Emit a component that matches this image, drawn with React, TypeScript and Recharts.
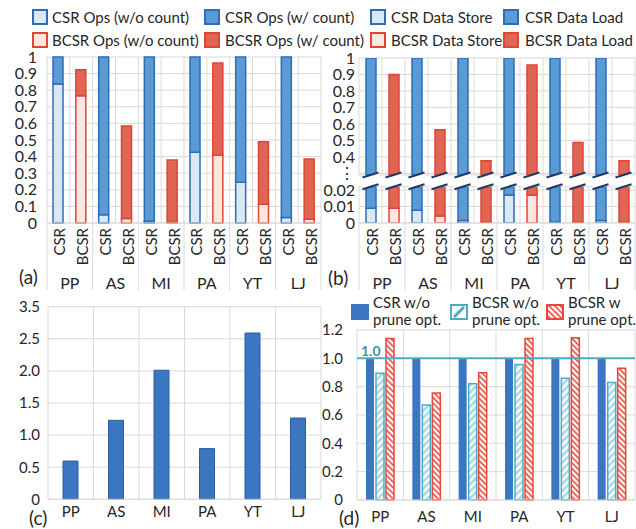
import React from 'react';
import { BarChart, Bar, XAxis, YAxis, CartesianGrid, Cell, ReferenceLine, ReferenceDot } from 'recharts';

// ---------- data ----------
const datasets = ['PP', 'AS', 'MI', 'PA', 'YT', 'LJ'];
const formats = ['CSR', 'BCSR'];

// (a) normalized ops
const csrOpsWoCount = [0.838, 0.05, 0.01, 0.426, 0.246, 0.033];
const csrOpsTotal = [1, 1, 1, 1, 1, 1];
const bcsrOpsWoCount = [0.766, 0.027, 0.004, 0.41, 0.113, 0.022];
const bcsrOpsTotal = [0.923, 0.585, 0.379, 0.964, 0.49, 0.385];
const opsTicks = [0, 0.1, 0.2, 0.3, 0.4, 0.5, 0.6, 0.7, 0.8, 0.9, 1];
const opsLegend = ['CSR Ops (w/o count)', 'CSR Ops (w/ count)', 'BCSR Ops (w/o count)', 'BCSR Ops (w/ count)'];

// (b) normalized data accesses (broken axis)
const csrDataStore = [0.009, 0.0078, 0.0015, 0.017, 0.0005, 0.0015];
const csrDataTotal = [1, 1, 1, 1, 1, 1];
const bcsrDataStore = [0.009, 0.0043, 0.0005, 0.017, 0.0005, 0.0005];
const bcsrDataTotal = [0.9, 0.565, 0.376, 0.957, 0.487, 0.376];
const dataUpperTicks = [0.3, 0.4, 0.5, 0.6, 0.7, 0.8, 0.9, 1];
const dataLowerTicks = [0, 0.01, 0.02];
const dataLegend = ['CSR Data Store', 'CSR Data Load', 'BCSR Data Store', 'BCSR Data Load'];

// (c) speedup
const speedup = [0.596, 1.23, 2.01, 0.79, 2.59, 1.266];
const speedupTicks = [0, 0.5, 1, 1.5, 2, 2.5, 3];
const speedupTickLabels = ['0', '0.5', '1.0', '1.5', '2.0', '2.5', '3.5'];

// (d) prune optimisation
const csrNoPrune = [1, 1, 1, 1, 1, 1];
const bcsrNoPrune = [0.894, 0.67, 0.82, 0.957, 0.859, 0.83];
const bcsrPrune = [1.14, 0.755, 0.898, 1.14, 1.145, 0.93];
const pruneTicks = [0, 0.2, 0.4, 0.6, 0.8, 1, 1.2];
const pruneLegend = [['CSR w/o', 'prune opt.'], ['BCSR w/o', 'prune opt.'], ['BCSR w', 'prune opt.']];

// ---------- tables ----------
const opsRows = datasets.flatMap((g, i) => [
  { key: `${g}|${formats[0]}`, fmt: formats[0], light: csrOpsWoCount[i], dark: csrOpsTotal[i] - csrOpsWoCount[i] },
  { key: `${g}|${formats[1]}`, fmt: formats[1], light: bcsrOpsWoCount[i], dark: bcsrOpsTotal[i] - bcsrOpsWoCount[i] },
]);
const dataRows = datasets.flatMap((g, i) => [
  { key: `${g}|${formats[0]}`, fmt: formats[0], store: csrDataStore[i], load: csrDataTotal[i] - csrDataStore[i], total: csrDataTotal[i] },
  { key: `${g}|${formats[1]}`, fmt: formats[1], store: bcsrDataStore[i], load: bcsrDataTotal[i] - bcsrDataStore[i], total: bcsrDataTotal[i] },
]);
const speedRows = datasets.map((g, i) => ({ group: g, speedup: speedup[i] }));
const pruneRows = datasets.map((g, i) => ({ group: g, csr: csrNoPrune[i], bcsrNo: bcsrNoPrune[i], bcsrYes: bcsrPrune[i] }));

// ---------- styles ----------
const FONT = 'Lato, "Open Sans", sans-serif';
const TEXT = '#262626';
const GRID = '#d9d9d9';
const COL = {
  CSR: { light: '#DAE8F6', dark: '#5B9BD5', stroke: '#2E6DB4' },
  BCSR: { light: '#FCE6E0', dark: '#E06552', stroke: '#DE4634' },
};
const BLUE = '#3A77C0';
const BLUE_STROKE = '#2D5E9B';
const TEAL = '#4BACC6';
const RED = '#E8483A';
const BREAK = '#1F3864';

const bandLines = (n: number) => (props: any) => {
  const off = props && props.offset ? props.offset : { left: 0, width: 0 };
  const out: number[] = [];
  for (let i = 0; i <= n; i++) out.push(off.left + (off.width * i) / n);
  return out;
};

const makeTwoLevelTick = (band: number, last: number) => (props: any) => {
  const { x, y, payload, index } = props;
  const [group, fmt] = String(payload.value).split('|');
  const first = fmt === formats[0];
  return (
    <g>
      <text transform={`translate(${x + 1},${y + 5}) rotate(-90)`} textAnchor="end" dominantBaseline="central" fontSize={15} fill={TEXT} fontFamily={FONT}>
        {fmt}
      </text>
      {first && (
        <text x={x + band / 2} y={y + 59} textAnchor="middle" dominantBaseline="central" fontSize={16} fill={TEXT} fontFamily={FONT}>
          {group}
        </text>
      )}
      {first && <line x1={x - band / 2} x2={x - band / 2} y1={y} y2={y + 67} stroke={GRID} />}
      {index === last && <line x1={x + band / 2} x2={x + band / 2} y1={y} y2={y + 67} stroke={GRID} />}
    </g>
  );
};

const makeGroupTick = (dy: number) => (props: any) => {
  const { x, y, payload } = props;
  return (
    <text x={x} y={y + dy} textAnchor="middle" dominantBaseline="central" fontSize={15} fill={TEXT} fontFamily={FONT}>
      {payload.value}
    </text>
  );
};

const TopBreak = (props: any) => {
  const { cx, cy } = props;
  return (
    <g>
      <polygon points={`${cx - 8},${cy + 2.5} ${cx + 8},${cy - 2.5} ${cx + 8},${cy - 6} ${cx - 8},${cy - 6}`} fill="#fff" />
      <line x1={cx - 8} y1={cy + 2.5} x2={cx + 8} y2={cy - 2.5} stroke={BREAK} strokeWidth={2} />
    </g>
  );
};
const BottomBreak = (props: any) => {
  const { cx, cy } = props;
  return (
    <g>
      <polygon points={`${cx - 8},${cy + 2.5} ${cx + 8},${cy - 2.5} ${cx + 8},${cy + 6} ${cx - 8},${cy + 6}`} fill="#fff" />
      <line x1={cx - 8} y1={cy + 2.5} x2={cx + 8} y2={cy - 2.5} stroke={BREAK} strokeWidth={2} />
    </g>
  );
};

const Swatch = ({ x, y, fill, stroke }: any) => (
  <div style={{ position: 'absolute', left: x, top: y, width: 16, height: 16, boxSizing: 'border-box', background: fill, border: `2px solid ${stroke}` }} />
);
const Label = ({ x, y, text, size = 15, bold = false, color = TEXT }: any) => (
  <div style={{ position: 'absolute', left: x, top: y, fontSize: size, lineHeight: `${size + 1}px`, whiteSpace: 'nowrap', fontWeight: bold ? 700 : 400, color }}>{text}</div>
);

const tickStyle = (size: number) => ({ fill: TEXT, fontSize: size, fontFamily: FONT });

export default function App() {
  const bandA = 274 / 12;
  const bandB = 276 / 12;
  return (
    <div style={{ position: 'absolute', left: 0, top: 0, width: 636, height: 529, background: '#fff', fontFamily: FONT, color: TEXT, overflow: 'hidden' }}>
      <svg width={0} height={0} style={{ position: 'absolute' }}>
        <defs>
          <pattern id="tealHatch" patternUnits="userSpaceOnUse" width={5} height={5} patternTransform="rotate(45)">
            <rect width={5} height={5} fill="#fff" />
            <rect width={2.6} height={5} fill="#A9D9E2" />
          </pattern>
          <pattern id="redHatch" patternUnits="userSpaceOnUse" width={4} height={4} patternTransform="rotate(-45)">
            <rect width={4} height={4} fill="#fff" />
            <rect width={1.6} height={4} fill={RED} />
          </pattern>
        </defs>
      </svg>

      {/* legend (a) */}
      <Swatch x={32} y={9} fill={COL.CSR.light} stroke={COL.CSR.stroke} />
      <Label x={52} y={9} text={opsLegend[0]} />
      <Swatch x={204} y={9} fill={COL.CSR.dark} stroke={COL.CSR.stroke} />
      <Label x={225} y={9} text={opsLegend[1]} />
      <Swatch x={32} y={32} fill={COL.BCSR.light} stroke={COL.BCSR.stroke} />
      <Label x={52} y={32} text={opsLegend[2]} />
      <Swatch x={204} y={32} fill={COL.BCSR.dark} stroke={COL.BCSR.stroke} />
      <Label x={225} y={32} text={opsLegend[3]} />

      {/* legend (b) */}
      <Swatch x={370} y={9} fill={COL.CSR.light} stroke={COL.CSR.stroke} />
      <Label x={391} y={9} text={dataLegend[0]} />
      <Swatch x={503} y={9} fill={COL.CSR.dark} stroke={COL.CSR.stroke} />
      <Label x={525} y={9} text={dataLegend[1]} />
      <Swatch x={370} y={32} fill={COL.BCSR.light} stroke={COL.BCSR.stroke} />
      <Label x={391} y={32} text={dataLegend[2]} />
      <Swatch x={503} y={32} fill={COL.BCSR.dark} stroke={COL.BCSR.stroke} />
      <Label x={525} y={32} text={dataLegend[3]} />

      {/* (a) */}
      <div style={{ position: 'absolute', left: 0, top: 0 }}>
        <BarChart width={325} height={300} data={opsRows} margin={{ top: 57, right: 4, left: 0, bottom: 0 }} barSize={10}>
          <CartesianGrid stroke={GRID} verticalCoordinatesGenerator={bandLines(12)} />
          <XAxis dataKey="key" height={77} interval={0} tickSize={0} tickMargin={0} tickLine={false} axisLine={{ stroke: GRID }} tick={makeTwoLevelTick(bandA, 11)} />
          <YAxis width={47} domain={[0, 1]} ticks={opsTicks} interval={0} tickSize={0} tickMargin={10} axisLine={false} tickLine={false} tick={tickStyle(16)} />
          <Bar dataKey="light" stackId="s" isAnimationActive={false} strokeWidth={1.5}>
            {opsRows.map((r) => (
              <Cell key={r.key} fill={COL[r.fmt].light} stroke={COL[r.fmt].stroke} />
            ))}
          </Bar>
          <Bar dataKey="dark" stackId="s" isAnimationActive={false} strokeWidth={1.5}>
            {opsRows.map((r) => (
              <Cell key={r.key} fill={COL[r.fmt].dark} stroke={COL[r.fmt].stroke} />
            ))}
          </Bar>
        </BarChart>
      </div>
      <Label x={19} y={267} text="(a)" size={19} />

      {/* (b) upper */}
      <div style={{ position: 'absolute', left: 318, top: 0 }}>
        <BarChart width={318} height={186} data={dataRows} margin={{ top: 58, right: 1, left: 0, bottom: 11 }} barSize={10}>
          <CartesianGrid stroke={GRID} verticalCoordinatesGenerator={bandLines(12)} />
          <XAxis dataKey="key" hide />
          <YAxis width={41} domain={[0.29, 1]} allowDataOverflow ticks={dataUpperTicks} interval={0} tickSize={0} tickMargin={4} axisLine={false} tickLine={false} tick={tickStyle(16)} tickFormatter={(v: number) => (v === dataUpperTicks[0] ? '⋮' : String(v))} />
          <Bar dataKey="total" isAnimationActive={false} strokeWidth={1.5}>
            {dataRows.map((r) => (
              <Cell key={r.key} fill={COL[r.fmt].dark} stroke={COL[r.fmt].stroke} />
            ))}
          </Bar>
          {dataRows.map((r) => (
            <ReferenceDot key={r.key} x={r.key} y={0.29} ifOverflow="visible" shape={BottomBreak} />
          ))}
        </BarChart>
      </div>

      {/* (b) lower */}
      <div style={{ position: 'absolute', left: 318, top: 180 }}>
        <BarChart width={318} height={120} data={dataRows} margin={{ top: 6.7, right: 1, left: 0, bottom: 0 }} barSize={10}>
          <CartesianGrid stroke={GRID} verticalCoordinatesGenerator={bandLines(12)} />
          <XAxis dataKey="key" height={77} interval={0} tickSize={0} tickMargin={0} tickLine={false} axisLine={{ stroke: GRID }} tick={makeTwoLevelTick(bandB, 11)} />
          <YAxis width={41} domain={[0, 0.022]} allowDataOverflow ticks={dataLowerTicks} interval={0} tickSize={0} tickMargin={4} axisLine={false} tickLine={false} tick={tickStyle(16)} />
          <Bar dataKey="store" stackId="s" isAnimationActive={false} strokeWidth={1.5}>
            {dataRows.map((r) => (
              <Cell key={r.key} fill={COL[r.fmt].light} stroke={COL[r.fmt].stroke} />
            ))}
          </Bar>
          <Bar dataKey="load" stackId="s" isAnimationActive={false} strokeWidth={1.5}>
            {dataRows.map((r) => (
              <Cell key={r.key} fill={COL[r.fmt].dark} stroke={COL[r.fmt].stroke} />
            ))}
          </Bar>
          {dataRows.map((r) => (
            <ReferenceDot key={r.key} x={r.key} y={0.022} ifOverflow="visible" shape={TopBreak} />
          ))}
        </BarChart>
      </div>
      <Label x={328} y={268} text="(b)" size={19} />

      {/* (c) */}
      <div style={{ position: 'absolute', left: 0, top: 295 }}>
        <BarChart width={325} height={234} data={speedRows} margin={{ top: 11.7, right: 4, left: 0, bottom: 0 }} barSize={15}>
          <CartesianGrid stroke={GRID} verticalCoordinatesGenerator={bandLines(6)} />
          <XAxis dataKey="group" height={29.7} interval={0} tickSize={0} tickMargin={0} tickLine={false} axisLine={{ stroke: GRID }} tick={makeGroupTick(12)} />
          <YAxis width={48} domain={[0, 3]} ticks={speedupTicks} interval={0} tickSize={0} tickMargin={8} axisLine={false} tickLine={false} tick={tickStyle(15)} tickFormatter={(v: number) => speedupTickLabels[speedupTicks.indexOf(v)]} />
          <Bar dataKey="speedup" fill={BLUE} stroke={BLUE_STROKE} strokeWidth={1} isAnimationActive={false} />
        </BarChart>
      </div>
      <Label x={29} y={508} text="(c)" size={19} />

      {/* legend (d) */}
      <div style={{ position: 'absolute', left: 351, top: 304, width: 18, height: 16, background: BLUE }} />
      <svg style={{ position: 'absolute', left: 450, top: 304 }} width={18} height={16}>
        <rect x={1} y={1} width={16} height={14} fill="#fff" stroke={TEAL} strokeWidth={2} />
        <line x1={4} y1={13} x2={14} y2={3} stroke={TEAL} strokeWidth={3} />
      </svg>
      <svg style={{ position: 'absolute', left: 546, top: 304 }} width={18} height={16}>
        <rect x={1} y={1} width={16} height={14} fill="url(#redHatch)" stroke={RED} strokeWidth={2} />
      </svg>
      <div style={{ position: 'absolute', left: 373, top: 294, fontSize: 15, lineHeight: '17px', whiteSpace: 'nowrap' }}>
        {pruneLegend[0][0]}<br />{pruneLegend[0][1]}
      </div>
      <div style={{ position: 'absolute', left: 472, top: 294, fontSize: 15, lineHeight: '17px', whiteSpace: 'nowrap' }}>
        {pruneLegend[1][0]}<br />{pruneLegend[1][1]}
      </div>
      <div style={{ position: 'absolute', left: 568, top: 294, fontSize: 15, lineHeight: '17px', whiteSpace: 'nowrap' }}>
        {pruneLegend[2][0]}<br />{pruneLegend[2][1]}
      </div>

      {/* (d) */}
      <div style={{ position: 'absolute', left: 318, top: 295 }}>
        <BarChart width={318} height={234} data={pruneRows} margin={{ top: 35, right: 1, left: 0, bottom: 0 }} barSize={8} barGap={2}>
          <CartesianGrid stroke={GRID} verticalCoordinatesGenerator={bandLines(6)} />
          <XAxis dataKey="group" height={29} interval={0} tickSize={0} tickMargin={0} tickLine={false} axisLine={{ stroke: GRID }} tick={makeGroupTick(16)} />
          <YAxis width={39} domain={[0, 1.2]} ticks={pruneTicks} interval={0} tickSize={0} tickMargin={14} axisLine={false} tickLine={false} tick={tickStyle(15)} tickFormatter={(v: number) => (v === 0 ? '0' : v.toFixed(1))} />
          <Bar dataKey="csr" fill={BLUE} isAnimationActive={false} />
          <Bar dataKey="bcsrNo" fill="url(#tealHatch)" stroke={TEAL} strokeWidth={1.5} isAnimationActive={false} />
          <Bar dataKey="bcsrYes" fill="url(#redHatch)" stroke={RED} strokeWidth={1.5} isAnimationActive={false} />
          <ReferenceLine
            y={1}
            stroke={TEAL}
            strokeWidth={2}
            ifOverflow="visible"
            label={(p: any) => (
              <text x={p.viewBox.x + 4} y={p.viewBox.y - 8} dominantBaseline="central" fill="#3F8FA1" fontWeight={700} fontSize={14} fontFamily={FONT}>
                1.0
              </text>
            )}
          />
        </BarChart>
      </div>
      <Label x={339} y={508} text="(d)" size={19} />
    </div>
  );
}
